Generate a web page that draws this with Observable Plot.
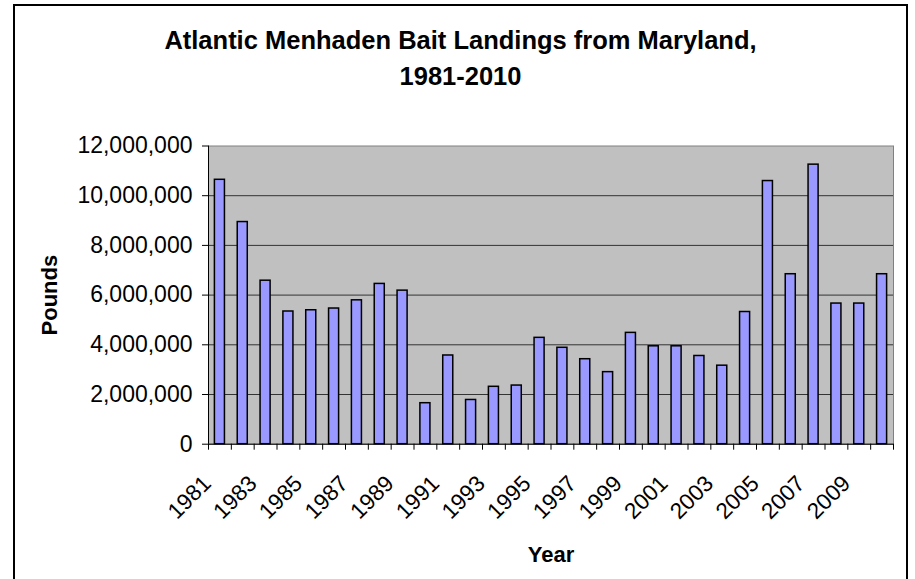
<!DOCTYPE html>
<html>
<head>
<meta charset="utf-8">
<script src="https://cdn.jsdelivr.net/npm/d3@7"></script>
<script src="https://cdn.jsdelivr.net/npm/@observablehq/plot@0.6"></script>
<style>
  body { margin: 0; background: #fff; }
  #page { position: relative; width: 915px; height: 579px; overflow: hidden; font-family: "Liberation Sans", Arial, sans-serif; }
  #border { position: absolute; left: 13px; top: 4px; width: 891px; height: 640px; border: 2px solid #000; pointer-events: none; }
  #title { box-sizing: border-box; margin-left: 13px; width: 895px; height: 100px; padding-top: 22px;
           text-align: center; font-weight: bold; font-size: 25.5px; line-height: 36px; color: #000; }
  #chart svg { display: block; }
</style>
</head>
<body>
<div id="page">
  <div id="border"></div>
  <div id="title">Atlantic Menhaden Bait Landings from Maryland,<br>1981-2010</div>
  <div id="chart"></div>
</div>
<script>
// Annual bait landings of Atlantic menhaden in Maryland (pounds)
const years = ["1981","1982","1983","1984","1985","1986","1987","1988","1989","1990",
               "1991","1992","1993","1994","1995","1996","1997","1998","1999","2000",
               "2001","2002","2003","2004","2005","2006","2007","2008","2009","2010"];
const pounds = [10640000, 8940000, 6580000, 5340000, 5390000, 5460000, 5790000, 6450000, 6180000, 1650000,
                3570000, 1780000, 2310000, 2360000, 4280000, 3880000, 3420000, 2900000, 4480000, 3940000,
                3940000, 3550000, 3160000, 5320000, 10590000, 6840000, 11250000, 5660000, 5660000, 6840000];
const yTicks = [0, 2000000, 4000000, 6000000, 8000000, 10000000, 12000000];
const labelYears = ["1981","1983","1985","1987","1989","1991","1993","1995","1997","1999",
                    "2001","2003","2005","2007","2009"];

const data = years.map((year, i) => ({year, pounds: pounds[i]}));

const width = 915, height = 479;
const marginLeft = 208, marginRight = 22, marginTop = 45.5, marginBottom = 135.3;
const step = (width - marginLeft - marginRight) / years.length;
const gridTicks = yTicks.filter(d => d > 0 && d < 12000000);

const chart = Plot.plot({
  width, height, marginLeft, marginRight, marginTop, marginBottom,
  style: {fontFamily: "'Liberation Sans', Arial, sans-serif", fontSize: "22.5px", color: "#000", background: "transparent", overflow: "visible"},
  x: {type: "band", domain: years, paddingInner: 0.56, paddingOuter: 0.28, round: false, axis: null},
  y: {domain: [0, 12000000], axis: null},
  marks: [
    Plot.frame({fill: "#C0C0C0", stroke: "#808080"}),
    Plot.ruleY(gridTicks, {stroke: "#333", strokeWidth: 1}),
    Plot.barY(data, {x: "year", y: "pounds", fill: "#9999FF", stroke: "#000", strokeWidth: 1.5}),
    // value axis line and category axis line
    Plot.ruleX([years[0]], {x: d => d, dx: -step / 2, y1: 0, y2: 12000000, stroke: "#000"}),
    Plot.ruleY([0], {stroke: "#000"}),
    // category tick marks sit between the bars
    Plot.ruleX(years, {x: d => d, dx: -step / 2, y1: 0, y2: 0, insetBottom: -6, stroke: "#000"}),
    Plot.ruleX([years[years.length - 1]], {x: d => d, dx: step / 2, y1: 0, y2: 0, insetBottom: -6, stroke: "#000"}),
    Plot.axisY({ticks: yTicks, tickFormat: d3.format(","), tickSize: 6, tickPadding: 10, label: null, fontSize: 23}),
    Plot.text(labelYears, {x: d => d, frameAnchor: "bottom", text: d => d, rotate: -45, textAnchor: "end",
                           lineAnchor: "bottom", dx: -7.6, dy: 40.7, fontSize: 22.5}),
    Plot.text(["Pounds"], {frameAnchor: "left", dx: -152, rotate: -90, textAnchor: "middle", lineAnchor: "bottom",
                           fontWeight: "bold", fontSize: 22}),
    Plot.text(["Year"], {frameAnchor: "bottom", dy: 117.3, textAnchor: "middle", lineAnchor: "bottom",
                         fontWeight: "bold", fontSize: 22})
  ]
});

document.getElementById("chart").append(chart);
</script>
</body>
</html>
